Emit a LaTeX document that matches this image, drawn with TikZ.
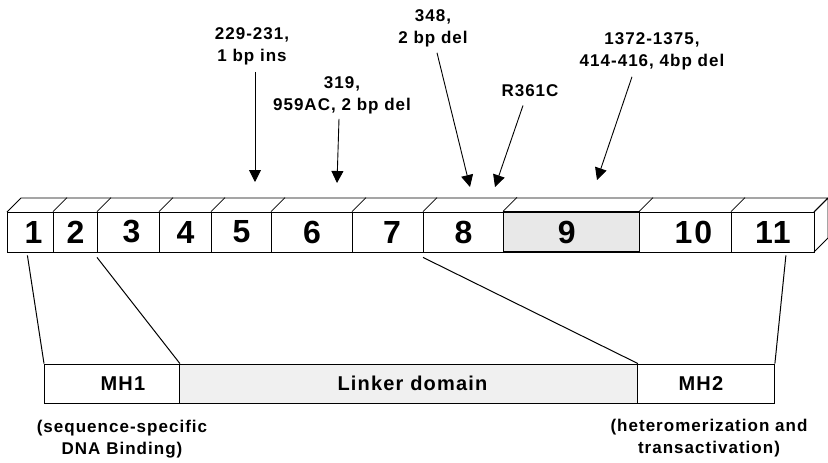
\documentclass[tikz,border=0pt]{standalone}
\usepackage{fontspec}
\setmainfont{Liberation Sans}
\newfontfamily\lblfont[LetterSpace=6]{Liberation Sans}
\usetikzlibrary{arrows.meta}
\begin{document}
\begin{tikzpicture}[x=1pt,y=-1pt,
  edge/.style={line width=0.8pt},
  cell/.style={draw, line width=0.8pt, minimum height=40pt, inner sep=0pt, anchor=west,
    font=\lblfont\bfseries\fontsize{32}{36}\selectfont},
  shade9/.style={fill=black!9, line width=1.3pt},
  dom/.style={draw, line width=0.9pt, minimum height=39pt, inner sep=0pt, anchor=west,
    font=\lblfont\bfseries\fontsize{20}{24}\selectfont},
  lbl/.style={inner sep=0pt, align=center, anchor=north,
    font=\lblfont\bfseries\fontsize{17}{22}\selectfont},
  mut/.style={line width=0.9pt, -{Triangle[length=12pt,width=12pt]}},
  link/.style={line width=1pt}]
\useasboundingbox (0,0) rectangle (828,463);
% 3D top and right faces
\draw[edge, line join=round] (7,212) -- (21,198) -- (828,198) -- (814,212);
\draw[edge, line join=round] (814,212) -- (828,198) -- (828,238) -- (814,252);
% exon cells
\node[cell, minimum width=46pt] (e1) at (7,232) {\hspace*{6pt}1};
\node[cell, minimum width=44pt] (e2) at (53,232) {2};
\node[cell, minimum width=62pt] (e3) at (97,232) {\hspace*{6pt}3};
\node[cell, minimum width=52pt] (e4) at (159,232) {4};
\node[cell, minimum width=60pt] (e5) at (211,232) {5};
\node[cell, minimum width=81pt] (e6) at (271,232) {6};
\node[cell, minimum width=71pt] (e7) at (352,232) {\hspace*{8pt}7};
\node[cell, minimum width=80pt] (e8) at (423,232) {8};
\node[cell, shade9, draw, minimum width=136pt] (e9) at (503,232) {9\hspace*{10pt}};
\node[cell, minimum width=92pt] (e10) at (639,232) {\hspace*{16pt}10};
\node[cell, minimum width=83pt] (e11) at (731,232) {11};
% slants on top face
\foreach \n in {e2,e3,e4,e5,e6,e7,e8,e9,e10,e11}
  \draw[edge] (\n.north west) -- ++(14,-14);
% domains
\node[dom, minimum width=135pt] (mh1) at (44,383.5) {\hspace*{22pt}MH1};
\node[dom, fill=black!6, minimum width=458pt] (linker) at (179,383.5) {\hspace*{8pt}Linker domain};
\node[dom, minimum width=137pt] (mh2) at (637,383.5) {MH2\hspace*{10pt}};
% connectors gene -> domains
\draw[link] ([xshift=-3pt,yshift=-3pt]e1.south) -- (mh1.north west);
\draw[link] ([yshift=-5pt]e3.south west) -- (mh1.north east);
\draw[link] ([yshift=-5pt]e8.south west) -- (linker.north east);
\draw[link] ([xshift=13pt,yshift=-3pt]e11.south) -- (mh2.north east);
% domain captions
\node[lbl] (c1) at (122,420) {(sequence-specific\\DNA Binding)};
\node[lbl] (c2) at (709,419) {(heteromerization and\\transactivation)};
% mutation labels
\coordinate (t1) at (255,182);
\coordinate (t2) at (337,183);
\coordinate (t3) at (470,187);
\coordinate (t4) at (495,187);
\coordinate (t5) at (597,180);
\node[lbl] (l1) at (252,27) {229-231,\\1 bp ins};
\node[lbl] (l2) at (342,76) {319,\\959AC, 2 bp del};
\node[lbl] (l3) at (433,9) {348,\\2 bp del};
\node[lbl] (l4) at (530,84) {R361C};
\node[lbl] (l5) at (652,32) {1372-1375,\\414-416, 4bp del};
\draw[mut] ([xshift=3pt,yshift=-7pt]l1.south) -- (t1);
\draw[mut] ([xshift=-3pt,yshift=-5pt]l2.south) -- (t2);
\draw[mut] ([xshift=4pt,yshift=-6pt]l3.south) -- (t3);
\draw[mut] ([xshift=-7pt,yshift=-9pt]l4.south) -- (t4);
\draw[mut] ([xshift=-20pt,yshift=-7pt]l5.south) -- (t5);
\end{tikzpicture}
\end{document}
